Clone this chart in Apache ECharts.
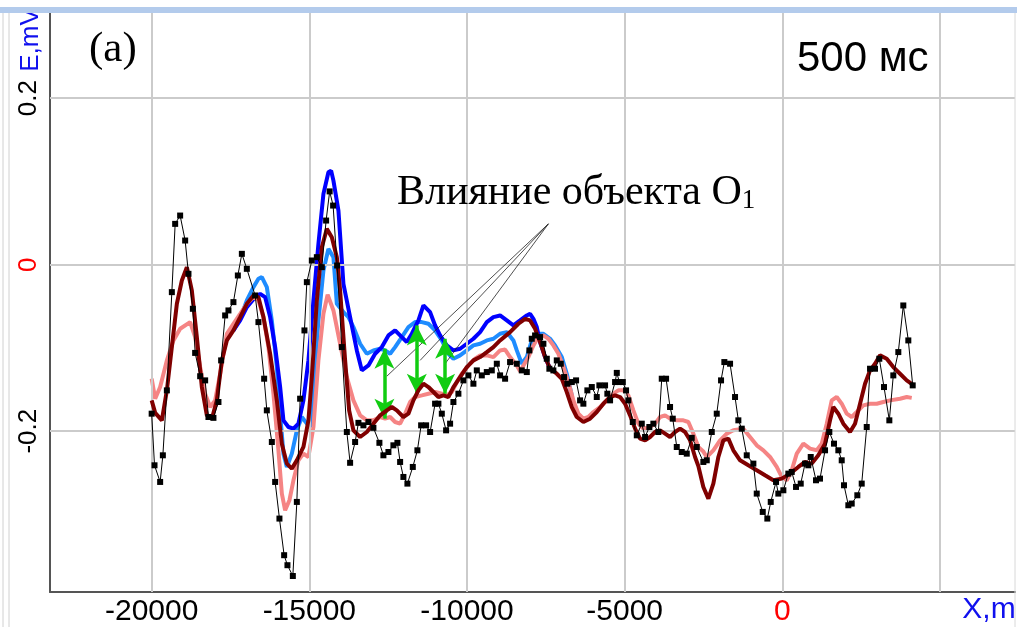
<!DOCTYPE html>
<html><head><meta charset="utf-8">
<script src="https://cdn.jsdelivr.net/npm/echarts@6/dist/echarts.min.js"></script>
<style>html,body{margin:0;padding:0;background:#fff}#c{width:1017px;height:627px}</style>
</head><body><div id="c"></div>
<script>
const xTicks = [-20000, -15000, -10000, -5000, 0, 5000];
const xTickLabels = [-20000, -15000, -10000, -5000, 0];
const yTicks = [-0.2, 0, 0.2];

const measured = [
[-20000,-0.179],[-19910,-0.241],[-19731,-0.261],[-19645,-0.229],[-19518,-0.151],[-19360,-0.033],[-19255,0.049],[-19097,0.059],[-18938,0.029],[-18833,-0.011],[-18694,-0.053],[-18621,-0.106],[-18462,-0.134],[-18304,-0.139],[-18199,-0.183],[-18041,-0.184],[-17882,-0.165],[-17797,-0.115],[-17670,-0.061],[-17565,-0.055],[-17407,-0.045],[-17267,-0.013],[-17140,0.013],[-16982,-0.005],[-16719,-0.037],[-16614,-0.069],[-16433,-0.137],[-16348,-0.175],[-16189,-0.213],[-16084,-0.261],[-15948,-0.305],[-15799,-0.349],[-15694,-0.361],[-15523,-0.374],[-15396,-0.285],[-15292,-0.161],[-15155,-0.079],[-15079,-0.021],[-14921,0.005],[-14762,0.009],[-14604,-0.003],[-14468,0.053],[-14356,0.088],[-14246,0.071],[-14119,-0.001],[-13970,-0.099],[-13811,-0.201],[-13707,-0.238],[-13548,-0.213],[-13443,-0.190],[-13285,-0.193],[-13126,-0.189],[-12968,-0.196],[-12778,-0.214],[-12651,-0.229],[-12492,-0.225],[-12334,-0.217],[-12207,-0.214],[-12121,-0.237],[-12017,-0.255],[-11890,-0.263],[-11719,-0.243],[-11573,-0.223],[-11455,-0.193],[-11297,-0.193],[-11170,-0.201],[-11012,-0.167],[-10907,-0.167],[-10799,-0.179],[-10663,-0.199],[-10536,-0.191],[-10431,-0.165],[-10273,-0.155],[-10114,-0.139],[-9956,-0.133],[-9797,-0.143],[-9689,-0.127],[-9531,-0.133],[-9372,-0.129],[-9214,-0.127],[-9055,-0.119],[-8951,-0.133],[-8792,-0.137],[-8634,-0.117],[-8421,-0.119],[-8263,-0.127],[-8104,-0.129],[-8022,-0.103],[-7946,-0.089],[-7841,-0.085],[-7682,-0.087],[-7578,-0.095],[-7470,-0.113],[-7388,-0.125],[-7261,-0.127],[-7153,-0.115],[-7026,-0.119],[-6921,-0.135],[-6817,-0.143],[-6677,-0.141],[-6541,-0.139],[-6414,-0.163],[-6310,-0.167],[-6183,-0.151],[-6043,-0.147],[-5885,-0.159],[-5802,-0.145],[-5622,-0.145],[-5549,-0.155],[-5463,-0.163],[-5304,-0.141],[-5250,-0.130],[-5168,-0.141],[-5060,-0.141],[-4956,-0.151],[-4883,-0.163],[-4743,-0.189],[-4616,-0.205],[-4458,-0.191],[-4353,-0.207],[-4217,-0.195],[-4090,-0.191],[-3932,-0.201],[-3824,-0.137],[-3687,-0.137],[-3561,-0.171],[-3475,-0.185],[-3348,-0.219],[-3190,-0.225],[-3031,-0.227],[-2873,-0.208],[-2714,-0.219],[-2505,-0.237],[-2397,-0.235],[-2238,-0.201],[-2080,-0.179],[-1944,-0.139],[-1839,-0.117],[-1658,-0.119],[-1500,-0.159],[-1395,-0.187],[-1287,-0.197],[-1129,-0.229],[-919,-0.239],[-812,-0.275],[-621,-0.297],[-476,-0.305],[-368,-0.285],[-200,-0.261],[-127,-0.275],[32,-0.271],[190,-0.251],[298,-0.249],[434,-0.267],[583,-0.263],[720,-0.239],[824,-0.241],[900,-0.231],[1068,-0.259],[1195,-0.257],[1354,-0.223],[1490,-0.201],[1639,-0.215],[1776,-0.223],[1883,-0.235],[1956,-0.265],[2093,-0.289],[2200,-0.287],[2378,-0.277],[2517,-0.263],[2676,-0.195],[2781,-0.125],[2939,-0.125],[3075,-0.113],[3224,-0.147],[3393,-0.187],[3519,-0.133],[3678,-0.105],[3836,-0.049],[3995,-0.091],[4134,-0.145]
];

const darkRed = [
[-20000,-0.163],[-19889,-0.178],[-19677,-0.187],[-19518,-0.151],[-19360,-0.099],[-19201,-0.047],[-19043,-0.019],[-18884,-0.003],[-18726,-0.031],[-18567,-0.087],[-18409,-0.147],[-18250,-0.181],[-18091,-0.185],[-17933,-0.163],[-17774,-0.115],[-17616,-0.091],[-17407,-0.079],[-17194,-0.063],[-16982,-0.047],[-16772,-0.037],[-16614,-0.039],[-16455,-0.063],[-16243,-0.107],[-16031,-0.163],[-15872,-0.215],[-15713,-0.239],[-15555,-0.245],[-15396,-0.235],[-15187,-0.219],[-15029,-0.187],[-14921,-0.135],[-14762,-0.043],[-14604,0.021],[-14445,0.043],[-14287,0.033],[-14128,0.009],[-14024,-0.031],[-13865,-0.115],[-13738,-0.175],[-13602,-0.199],[-13389,-0.207],[-13177,-0.201],[-12968,-0.191],[-12755,-0.181],[-12543,-0.175],[-12384,-0.171],[-12226,-0.175],[-12017,-0.183],[-11858,-0.179],[-11700,-0.163],[-11541,-0.151],[-11382,-0.143],[-11224,-0.147],[-11065,-0.153],[-10907,-0.159],[-10748,-0.157],[-10590,-0.159],[-10431,-0.147],[-10219,-0.135],[-10006,-0.123],[-9797,-0.115],[-9585,-0.111],[-9372,-0.105],[-9163,-0.099],[-8951,-0.091],[-8634,-0.081],[-8370,-0.071],[-8158,-0.065],[-8000,-0.067],[-7841,-0.077],[-7682,-0.093],[-7524,-0.111],[-7365,-0.125],[-7153,-0.131],[-6994,-0.137],[-6836,-0.153],[-6677,-0.171],[-6519,-0.183],[-6310,-0.189],[-6097,-0.185],[-5885,-0.177],[-5675,-0.167],[-5463,-0.159],[-5304,-0.157],[-5146,-0.159],[-4987,-0.167],[-4829,-0.181],[-4670,-0.197],[-4512,-0.209],[-4353,-0.211],[-4195,-0.207],[-4036,-0.201],[-3878,-0.199],[-3719,-0.203],[-3561,-0.207],[-3402,-0.201],[-3244,-0.197],[-3085,-0.201],[-2926,-0.211],[-2768,-0.231],[-2663,-0.242],[-2505,-0.267],[-2346,-0.281],[-2188,-0.263],[-2029,-0.231],[-1871,-0.211],[-1712,-0.209],[-1554,-0.223],[-1341,-0.235],[-1078,-0.241],[-812,-0.247],[-549,-0.253],[-285,-0.259],[-19,-0.257],[244,-0.251],[507,-0.243],[720,-0.237],[932,-0.239],[1141,-0.229],[1354,-0.215],[1512,-0.187],[1617,-0.171],[1776,-0.179],[1934,-0.191],[2146,-0.201],[2305,-0.191],[2464,-0.167],[2622,-0.143],[2781,-0.127],[2939,-0.119],[3098,-0.109],[3310,-0.113],[3519,-0.123],[3732,-0.131],[3944,-0.139],[4134,-0.144]
];

const pink = [
[-20000,-0.137],[-19889,-0.161],[-19731,-0.147],[-19518,-0.115],[-19309,-0.091],[-19097,-0.077],[-18780,-0.069],[-18621,-0.087],[-18462,-0.123],[-18304,-0.155],[-18145,-0.171],[-17987,-0.163],[-17828,-0.131],[-17616,-0.083],[-17407,-0.071],[-17194,-0.059],[-16982,-0.047],[-16772,-0.039],[-16614,-0.043],[-16455,-0.063],[-16297,-0.099],[-16138,-0.155],[-15980,-0.223],[-15872,-0.275],[-15767,-0.295],[-15631,-0.283],[-15504,-0.259],[-15346,-0.235],[-15187,-0.227],[-15029,-0.231],[-14870,-0.195],[-14712,-0.115],[-14553,-0.059],[-14420,-0.036],[-14236,-0.055],[-14024,-0.095],[-13811,-0.135],[-13602,-0.163],[-13389,-0.181],[-13177,-0.187],[-12968,-0.187],[-12755,-0.183],[-12597,-0.185],[-12438,-0.183],[-12280,-0.189],[-12121,-0.191],[-11963,-0.179],[-11804,-0.165],[-11646,-0.159],[-11433,-0.157],[-11224,-0.155],[-11012,-0.153],[-10799,-0.155],[-10641,-0.157],[-10482,-0.153],[-10323,-0.141],[-10165,-0.131],[-9956,-0.121],[-9743,-0.113],[-9585,-0.109],[-9372,-0.109],[-9163,-0.111],[-8951,-0.103],[-8792,-0.102],[-8634,-0.111],[-8421,-0.121],[-8316,-0.128],[-8053,-0.111],[-7895,-0.097],[-7736,-0.087],[-7578,-0.085],[-7419,-0.089],[-7261,-0.097],[-7102,-0.107],[-6944,-0.123],[-6785,-0.141],[-6627,-0.163],[-6468,-0.179],[-6310,-0.185],[-6151,-0.183],[-5992,-0.177],[-5780,-0.171],[-5568,-0.163],[-5358,-0.155],[-5200,-0.151],[-5041,-0.151],[-4883,-0.157],[-4724,-0.175],[-4566,-0.191],[-4407,-0.197],[-4195,-0.195],[-4036,-0.191],[-3878,-0.183],[-3719,-0.181],[-3561,-0.185],[-3348,-0.187],[-3139,-0.187],[-2980,-0.189],[-2822,-0.203],[-2663,-0.219],[-2514,-0.224],[-2397,-0.231],[-2188,-0.223],[-1975,-0.211],[-1763,-0.203],[-1554,-0.199],[-1237,-0.197],[-1024,-0.207],[-812,-0.217],[-602,-0.223],[-390,-0.231],[-178,-0.243],[-19,-0.255],[140,-0.259],[298,-0.247],[457,-0.227],[666,-0.215],[878,-0.221],[1091,-0.223],[1249,-0.215],[1408,-0.191],[1566,-0.163],[1725,-0.159],[1883,-0.167],[2042,-0.179],[2200,-0.183],[2359,-0.177],[2568,-0.169],[2781,-0.167],[2993,-0.167],[3202,-0.165],[3415,-0.163],[3732,-0.161],[3944,-0.159],[4103,-0.160]
];

const blue = [
[-17407,-0.079],[-17194,-0.067],[-16982,-0.051],[-16719,-0.039],[-16560,-0.035],[-16402,-0.039],[-16243,-0.063],[-16084,-0.099],[-15926,-0.147],[-15821,-0.187],[-15663,-0.195],[-15504,-0.197],[-15346,-0.191],[-15187,-0.163],[-15029,-0.115],[-14870,-0.043],[-14712,0.025],[-14553,0.085],[-14395,0.111],[-14309,0.113],[-14236,0.101],[-14077,0.065],[-13919,-0.023],[-13707,-0.063],[-13494,-0.103],[-13336,-0.127],[-13126,-0.121],[-12914,-0.107],[-12701,-0.099],[-12492,-0.085],[-12280,-0.079],[-12067,-0.087],[-11909,-0.093],[-11750,-0.083],[-11541,-0.067],[-11382,-0.049],[-11170,-0.057],[-11012,-0.073],[-10853,-0.085],[-10641,-0.097],[-10431,-0.103],[-10219,-0.101],[-10006,-0.095],[-9797,-0.089],[-9585,-0.081],[-9372,-0.069],[-9163,-0.063],[-8951,-0.061],[-8738,-0.067],[-8529,-0.073],[-8316,-0.067],[-8104,-0.061],[-8000,-0.059],[-7895,-0.065],[-7787,-0.075],[-7682,-0.093],[-7524,-0.111],[-7365,-0.125]
];

const lightBlue = [
[-17407,-0.079],[-17194,-0.065],[-16982,-0.043],[-16772,-0.027],[-16614,-0.017],[-16506,-0.015],[-16348,-0.027],[-16189,-0.067],[-16031,-0.123],[-15926,-0.179],[-15821,-0.227],[-15713,-0.243],[-15555,-0.227],[-15396,-0.199],[-15238,-0.183],[-15079,-0.191],[-14975,-0.195],[-14870,-0.147],[-14712,-0.067],[-14553,-0.007],[-14395,0.019],[-14236,0.009],[-14128,-0.047],[-13919,-0.057],[-13760,-0.063],[-13602,-0.075],[-13389,-0.095],[-13177,-0.107],[-12968,-0.103],[-12755,-0.101],[-12597,-0.103],[-12438,-0.107],[-12280,-0.099],[-12067,-0.087],[-11858,-0.075],[-11646,-0.069],[-11433,-0.069],[-11224,-0.071],[-11012,-0.079],[-10799,-0.091],[-10590,-0.107],[-10431,-0.113],[-10219,-0.109],[-10006,-0.103],[-9797,-0.097],[-9585,-0.095],[-9372,-0.091],[-9163,-0.089],[-8951,-0.083],[-8738,-0.081],[-8529,-0.091],[-8421,-0.103],[-8263,-0.119],[-8104,-0.111],[-7946,-0.091],[-7787,-0.083],[-7578,-0.083],[-7365,-0.089],[-7207,-0.097],[-6994,-0.111],[-6836,-0.131],[-6677,-0.157]
];

// green double arrows: [x, top, bottom]
const arrows = [[-12619,-0.101,-0.185],[-11592,-0.073,-0.155],[-10694,-0.089,-0.155]];
// pointer lines from the label
const pointerStart = [-7419, 0.049];
const pointerEnds = [[-12543,-0.134],[-11487,-0.115],[-10694,-0.119]];

const chart = echarts.init(document.getElementById('c'), null, {renderer:'canvas'});
const redZero = v => (v === 0 ? '{r|0}' : String(v));

const option = {
  animation: false,
  backgroundColor: '#fff',
  grid: {left: 50, right: 2, top: 13, bottom: 34, containLabel: false},
  xAxis: {
    type: 'value', min: -23224, max: 7378,
    axisLine: {onZero: false, lineStyle: {color: '#555', width: 2}},
    axisTick: {show: true, inside: true, length: 5, customValues: xTicks, lineStyle: {color: '#555', width: 1.5}},
    axisLabel: {customValues: xTickLabels, formatter: redZero, fontSize: 30, fontFamily: 'Liberation Sans, Arial', color: '#000', margin: 5,
      rich: {r: {color: '#ff0000', fontSize: 30, fontFamily: 'Liberation Sans, Arial'}}},
    splitLine: {show: false}
  },
  yAxis: {
    type: 'value', min: -0.3932, max: 0.3023,
    axisLine: {onZero: false, lineStyle: {color: '#555', width: 2}},
    axisTick: {show: true, inside: true, length: 5, customValues: yTicks, lineStyle: {color: '#555', width: 1.5}},
    axisLabel: {customValues: yTicks, formatter: redZero, rotate: 90, fontSize: 26, fontFamily: 'Liberation Sans, Arial', color: '#000', margin: 8,
      rich: {r: {color: '#ff0000', fontSize: 26, fontFamily: 'Liberation Sans, Arial'}}},
    splitLine: {show: false}
  },
  series: [
    {type: 'line', data: [], z: 1, silent: true,
      markLine: {silent: true, symbol: ['none','none'], label: {show: false}, animation: false,
        lineStyle: {color: '#cbcbcb', width: 2, type: 'solid'},
        data: xTicks.map(v => ({xAxis: v})).concat(yTicks.map(v => ({yAxis: v})))}},
    {type: 'line', data: lightBlue, z: 2, showSymbol: false, lineStyle: {color: '#1e8cff', width: 4}, itemStyle: {color: '#1e8cff'}},
    {type: 'line', data: blue, z: 3, showSymbol: false, lineStyle: {color: '#0000ff', width: 4}, itemStyle: {color: '#0000ff'}},
    {type: 'line', data: pink, z: 4, showSymbol: false, lineStyle: {color: '#f58484', width: 4}, itemStyle: {color: '#f58484'}},
    {type: 'line', data: darkRed, z: 5, showSymbol: false, lineStyle: {color: '#800000', width: 4}, itemStyle: {color: '#800000'}},
    {type: 'line', data: measured, z: 6, symbol: 'rect', symbolSize: 6, showSymbol: true,
      lineStyle: {color: '#000', width: 1}, itemStyle: {color: '#000'}},
    {type: 'line', data: [], z: 7, silent: true,
      markLine: {silent: true, label: {show: false}, animation: false,
        symbol: ['none','none'],
        lineStyle: {color: '#222', width: 0.8, type: 'solid'},
        data: pointerEnds.map(e => [{coord: pointerStart}, {coord: e}])}},
    {type: 'line', data: [], z: 8, silent: true,
      markLine: {silent: true, label: {show: false}, animation: false,
        symbol: ['arrow','arrow'], symbolSize: [15, 20],
        lineStyle: {color: '#11cc11', width: 3.5, type: 'solid'},
        itemStyle: {color: '#11cc11'},
        data: arrows.map(a => [{coord: [a[0], a[1]]}, {coord: [a[0], a[2]]}])}}
  ],
  graphic: [
    {type: 'rect', z: 100, shape: {x: 0, y: 7, width: 1017, height: 6}, style: {fill: '#b3cbec'}},
    {type: 'line', z: 100, shape: {x1: 3, y1: 13, x2: 3, y2: 627}, style: {stroke: '#d0d0d0', lineWidth: 1}},
    {type: 'line', z: 100, shape: {x1: 9, y1: 13, x2: 9, y2: 627}, style: {stroke: '#d0d0d0', lineWidth: 1}},
    {type: 'line', z: 100, shape: {x1: 1015, y1: 13, x2: 1015, y2: 627}, style: {stroke: '#d8d8d8', lineWidth: 1}},
    {type: 'text', z: 90, x: 31, y: 40, rotation: Math.PI / 2,
      style: {text: 'E,mV', font: '26px "Liberation Sans", Arial', fill: '#1010ee', textAlign: 'center', textVerticalAlign: 'middle'}},
    {type: 'text', z: 90, x: 989, y: 610,
      style: {text: 'X,m', font: '30px "Liberation Sans", Arial', fill: '#1010ee', textAlign: 'center', textVerticalAlign: 'middle'}},
    {type: 'text', z: 90, x: 89, y: 50,
      style: {text: '(a)', font: '43px "Liberation Serif", "Times New Roman", serif', fill: '#000', textAlign: 'left', textVerticalAlign: 'middle'}},
    {type: 'text', z: 90, x: 797, y: 59,
      style: {text: '500 мс', font: '42px "Liberation Sans", Arial', fill: '#000', textAlign: 'left', textVerticalAlign: 'middle'}},
    {type: 'text', z: 90, x: 397, y: 193,
      style: {text: '{m|Влияние объекта O}{s|1}', textAlign: 'left', textVerticalAlign: 'middle',
        rich: {m: {fontSize: 42, fontFamily: '"Liberation Serif", "Times New Roman", serif', fill: '#000', color: '#000'},
               s: {fontSize: 27, fontFamily: '"Liberation Serif", "Times New Roman", serif', fill: '#000', color: '#000', verticalAlign: 'bottom'}}}}
  ]
};
chart.setOption(option);
</script></body></html>
